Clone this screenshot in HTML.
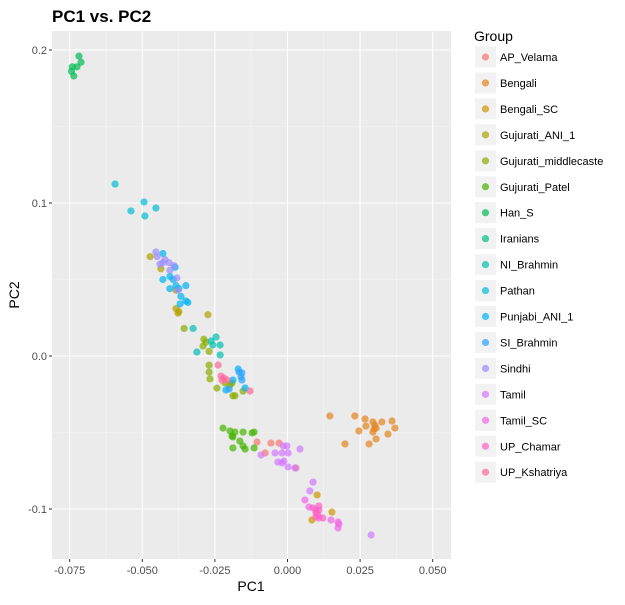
<!DOCTYPE html>
<html><head><meta charset="utf-8"><style>
body{margin:0;background:#fff;font-family:"Liberation Sans",sans-serif;}
svg text{font-family:"Liberation Sans",sans-serif;}
</style></head><body>
<svg id="chart" width="625" height="600" xmlns="http://www.w3.org/2000/svg">
<text x="52" y="22" font-size="17" font-weight="bold" fill="#000">PC1 vs. PC2</text>
<rect x="52" y="31" width="399" height="528" fill="#EBEBEB"/>
<g id="grid"></g>
<g id="axes"></g>
<g id="points"></g>
<text x="251" y="591" font-size="14" text-anchor="middle" fill="#000">PC1</text>
<text transform="translate(19,295) rotate(-90)" font-size="14" text-anchor="middle" fill="#000">PC2</text>
<g id="legend">
<text x="474" y="41" font-size="14" fill="#000">Group</text>
</g>
</svg>
<script>
const groups=["AP_Velama","Bengali","Bengali_SC","Gujurati_ANI_1","Gujurati_middlecaste","Gujurati_Patel","Han_S","Iranians","NI_Brahmin","Pathan","Punjabi_ANI_1","SI_Brahmin","Sindhi","Tamil","Tamil_SC","UP_Chamar","UP_Kshatriya"];
const colors=["#F8766D","#E7851E","#D09400","#B2A100","#89AC00","#45B500","#00BC51","#00C087","#00C0B2","#00BCD6","#00B3F2","#29A3FF","#9C8DFF","#D277FF","#F166E8","#FF61C7","#FF689E"];
const xTicks=[-0.075,-0.05,-0.025,0,0.025,0.05];
const xTickLabels=["-0.075","-0.050","-0.025","0.000","0.025","0.050"];
const yTicks=[-0.1,0,0.1,0.2];
const yTickLabels=["-0.1","0.0","0.1","0.2"];
const pc1={
AP_Velama:[-0.0105,-0.0057,-0.0029,-0.0077,0.0029],
Bengali:[0.0146,0.0232,0.0267,0.0294,0.0325,0.0270,0.0301,0.0298,0.0294,0.0305,0.0360,0.0370,0.0346,0.0246,0.0305,0.0281,0.0198],
Bengali_SC:[0.0102,0.0084,0.0153],
Gujurati_ANI_1:[-0.0473,-0.0436,-0.0384,-0.0384,-0.0377,-0.0374,-0.0274],
Gujurati_middlecaste:[-0.0356,-0.0288,-0.0291,-0.0281,-0.0270,-0.0270,-0.0270,-0.0243,-0.0188,-0.0181,-0.0267,-0.0215,-0.0153,-0.0198,-0.0191],
Gujurati_Patel:[-0.0222,-0.0198,-0.0181,-0.0153,-0.0122,-0.0115,-0.0188,-0.0164,-0.0153,-0.0188,-0.0146,-0.0115,-0.0191],
Han_S:[-0.0718,-0.0741,-0.0725,-0.0711,-0.0744,-0.0736],
Iranians:[],
NI_Brahmin:[-0.0325,-0.0263,-0.0246,-0.0232,-0.0312,-0.0232,-0.0257],
Pathan:[-0.0594,-0.0539,-0.0494,-0.0491,-0.0453],
Punjabi_ANI_1:[-0.0429,-0.0387,-0.0429,-0.0405,-0.0394,-0.0384,-0.0405,-0.0374,-0.0350,-0.0367,-0.0350,-0.0370,-0.0343,-0.0170,-0.0188,-0.0212,-0.0146],
SI_Brahmin:[-0.0167,-0.0160,-0.0201,-0.0157,-0.0157],
Sindhi:[-0.0453,-0.0449,-0.0439,-0.0429,-0.0422,-0.0408,-0.0391,-0.0405,-0.0381,-0.0377],
Tamil:[-0.0015,-0.0002,-0.0043,-0.0019,0.0002,0.0043,-0.0091,-0.0033,-0.0019,0.0002,0.0026,-0.0012,0.0088,0.0077,0.0288],
Tamil_SC:[0.0060,0.0150,0.0174,0.0177,0.0174,0.0074],
UP_Chamar:[0.0088,0.0098,0.0108,0.0098,0.0108,0.0098,0.0108,0.0122,0.0105],
UP_Kshatriya:[-0.0239,-0.0229,-0.0219,-0.0208,-0.0129,-0.0226]
};
const pc2={
AP_Velama:[-0.0562,-0.0569,-0.0569,-0.0634,-0.0732],
Bengali:[-0.0392,-0.0392,-0.0412,-0.0431,-0.0431,-0.0458,-0.0451,-0.0477,-0.0497,-0.0471,-0.0425,-0.0471,-0.0510,-0.0490,-0.0542,-0.0575,-0.0575],
Bengali_SC:[-0.0908,-0.1072,-0.1020],
Gujurati_ANI_1:[0.065,0.057,0.043,0.031,0.028,0.029,0.027],
Gujurati_middlecaste:[0.018,0.011,0.0065,0.009,0.003,-0.006,-0.0105,-0.021,-0.026,-0.026,-0.015,-0.0176,-0.023,-0.019,-0.0176],
Gujurati_Patel:[-0.0471,-0.0490,-0.0497,-0.0497,-0.0503,-0.0497,-0.0529,-0.0556,-0.0588,-0.0601,-0.0608,-0.0601,-0.0523],
Han_S:[0.196,0.189,0.189,0.192,0.186,0.183],
Iranians:[],
NI_Brahmin:[0.018,0.0098,0.0124,0.0072,0.0026,0.0007,0.0072],
Pathan:[0.1124,0.0948,0.1007,0.0915,0.0967],
Punjabi_ANI_1:[0.067,0.058,0.050,0.052,0.050,0.046,0.044,0.044,0.046,0.039,0.036,0.034,0.035,-0.0085,-0.0157,-0.0222,-0.0209],
SI_Brahmin:[-0.0105,-0.0137,-0.0216,-0.011,-0.0157],
Sindhi:[0.068,0.065,0.060,0.061,0.063,0.061,0.059,0.056,0.051,0.043],
Tamil:[-0.0588,-0.0588,-0.0634,-0.0634,-0.0634,-0.0608,-0.0647,-0.0693,-0.0699,-0.0725,-0.0732,-0.0686,-0.0824,-0.0882,-0.117],
Tamil_SC:[-0.0941,-0.1072,-0.1085,-0.1098,-0.1124,-0.0987],
UP_Chamar:[-0.0993,-0.1007,-0.1007,-0.1026,-0.0980,-0.1052,-0.1059,-0.1059,-0.1039],
UP_Kshatriya:[-0.0059,-0.0131,-0.0144,-0.0157,-0.0229,-0.0157]
};
const NS="http://www.w3.org/2000/svg";
const PL=52,PR=451,PT=31,PB=559;
function sx(v){return 287.5+v*2904;}
function sy(v){return 356-v*1530;}
function mk(tag,attrs,parent){const e=document.createElementNS(NS,tag);for(const k in attrs)e.setAttribute(k,attrs[k]);parent.appendChild(e);return e;}
const grid=document.getElementById('grid'),axes=document.getElementById('axes'),pts=document.getElementById('points'),leg=document.getElementById('legend');
// minor grid
for(let i=0;i<xTicks.length-1;i++){const v=(xTicks[i]+xTicks[i+1])/2;const l=mk('line',{x1:sx(v),x2:sx(v),y1:PT,y2:PB,stroke:'#F5F5F5','stroke-width':0.6},grid);

}
for(let i=0;i<yTicks.length-1;i++){const v=(yTicks[i]+yTicks[i+1])/2;const l=mk('line',{x1:PL,x2:PR,y1:sy(v),y2:sy(v),stroke:'#F5F5F5','stroke-width':0.6},grid);

}
xTicks.forEach((v,i)=>{const x=sx(v);
const l=mk('line',{x1:x,x2:x,y1:PT,y2:PB,stroke:'#fff','stroke-width':1.1},grid);


const t=mk('line',{x1:x,x2:x,y1:PB,y2:PB+3,stroke:'#333','stroke-width':1},axes);


const tx=mk('text',{x:x,y:PB+15,'font-size':11,'text-anchor':'middle',fill:'#4D4D4D'},axes);tx.textContent=xTickLabels[i];

});
yTicks.forEach((v,i)=>{const y=sy(v);
const l=mk('line',{x1:PL,x2:PR,y1:y,y2:y,stroke:'#fff','stroke-width':1.1},grid);


const t=mk('line',{x1:PL-3,x2:PL,y1:y,y2:y,stroke:'#333','stroke-width':1},axes);


const tx=mk('text',{x:PL-5,y:y+4,'font-size':11,'text-anchor':'end',fill:'#4D4D4D'},axes);tx.textContent=yTickLabels[i];

});
groups.forEach((g,gi)=>{
const xs=pc1[g],ys=pc2[g];
for(let i=0;i<xs.length;i++){const c=mk('circle',{cx:sx(xs[i]),cy:sy(ys[i]),r:3.6,fill:colors[gi],'fill-opacity':0.7},pts);

}
const cy=57+gi*25.95;
const kb=mk('rect',{x:475,y:cy-10.5,width:21,height:21,fill:'#F2F2F2'},leg);


const kc=mk('circle',{cx:485.5,cy:cy,r:3.6,fill:colors[gi],'fill-opacity':0.7},leg);


const kt=mk('text',{x:500,y:cy+4,'font-size':11,fill:'#000'},leg);kt.textContent=g;


});
</script>
</body></html>
